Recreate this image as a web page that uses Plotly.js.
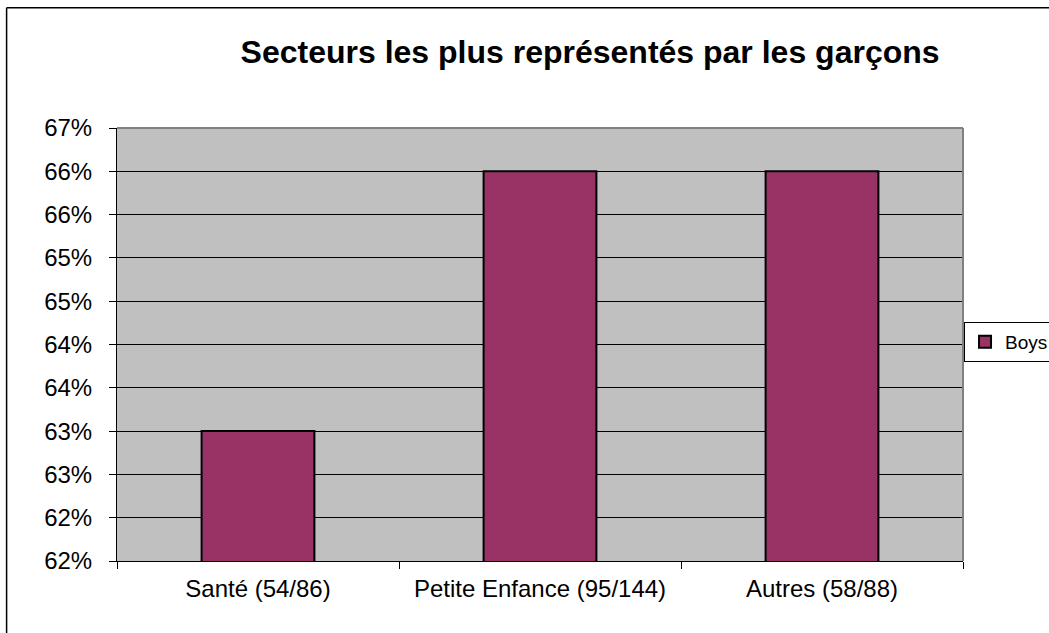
<!DOCTYPE html>
<html>
<head>
<meta charset="utf-8">
<script src="https://cdn.plot.ly/plotly-3.0.1.min.js"></script>
<style>
html,body{margin:0;padding:0;background:#fff;}
#chart{width:1049px;height:633px;}
</style>
</head>
<body>
<div id="chart"></div>
<script>
const categories = ["Santé (54/86)", "Petite Enfance (95/144)", "Autres (58/88)"];
const boysValues = [0.63, 0.66, 0.66];
const yTickVals = [0.615, 0.62, 0.625, 0.63, 0.635, 0.64, 0.645, 0.65, 0.655, 0.66, 0.665];
const yTickText = ["62%", "62%", "63%", "63%", "64%", "64%", "65%", "65%", "66%", "66%", "67%"];
const seriesName = "Boys";
const chartTitle = "Secteurs les plus représentés par les garçons";

const font = "Arial, 'Liberation Sans', sans-serif";

const trace = {
  type: "bar",
  x: categories,
  y: boysValues,
  name: seriesName,
  marker: {color: "#993366", line: {color: "#000000", width: 2}},
  showlegend: true
};

const layout = {
  width: 1049, height: 633,
  margin: {l: 117, r: 86, t: 128, b: 72, pad: 0},
  paper_bgcolor: "#ffffff",
  plot_bgcolor: "#c0c0c0",
  font: {family: font, size: 24, color: "#000"},
  title: {
    text: "<b>" + chartTitle + "</b>",
    font: {family: font, size: 32, color: "#000"},
    x: 0.5625, xref: "container", xanchor: "center",
    y: 0.918, yref: "container", yanchor: "middle"
  },
  bargap: 0.6,
  showlegend: true,
  legend: {
    xref: "container", yref: "container",
    x: 0.919, xanchor: "left", y: 0.4597, yanchor: "middle",
    bgcolor: "#ffffff", bordercolor: "#000000", borderwidth: 1,
    font: {family: font, size: 19, color: "#000"},
    itemwidth: 30, tracegroupgap: 0
  },
  xaxis: {
    type: "category",
    showline: true, linecolor: "#000", linewidth: 1,
    ticks: "outside", ticklen: 7, tickcolor: "#000", tickson: "boundaries",
    ticklabelstandoff: 6,
    showgrid: false, zeroline: false,
    tickfont: {family: font, size: 24, color: "#000"},
    automargin: false
  },
  yaxis: {
    range: [0.615, 0.665],
    tickmode: "array", tickvals: yTickVals, ticktext: yTickText,
    showline: true, linecolor: "#000", linewidth: 1,
    ticks: "outside", ticklen: 7, tickcolor: "#000",
    ticklabelstandoff: 12,
    showgrid: true, gridcolor: "#000", gridwidth: 1,
    zeroline: false,
    tickfont: {family: font, size: 24, color: "#000"},
    automargin: false
  },
  shapes: [
    {type: "line", xref: "paper", yref: "paper", x0: 0, x1: 1, y0: 1, y1: 1, line: {color: "#808080", width: 2}, layer: "above"},
    {type: "line", xref: "paper", yref: "paper", x0: 1, x1: 1, y0: 0, y1: 1, line: {color: "#808080", width: 2}, layer: "above"},
    {type: "line", xref: "paper", yref: "paper", x0: -0.1305, x1: 1.11, y0: 1.2775, y1: 1.2775, line: {color: "#000", width: 1.5}},
    {type: "line", xref: "paper", yref: "paper", x0: -0.1305, x1: -0.1305, y0: -0.17, y1: 1.2775, line: {color: "#000", width: 1.5}}
  ]
};

Plotly.newPlot("chart", [trace], layout, {displayModeBar: false, staticPlot: true});
</script>
</body>
</html>
